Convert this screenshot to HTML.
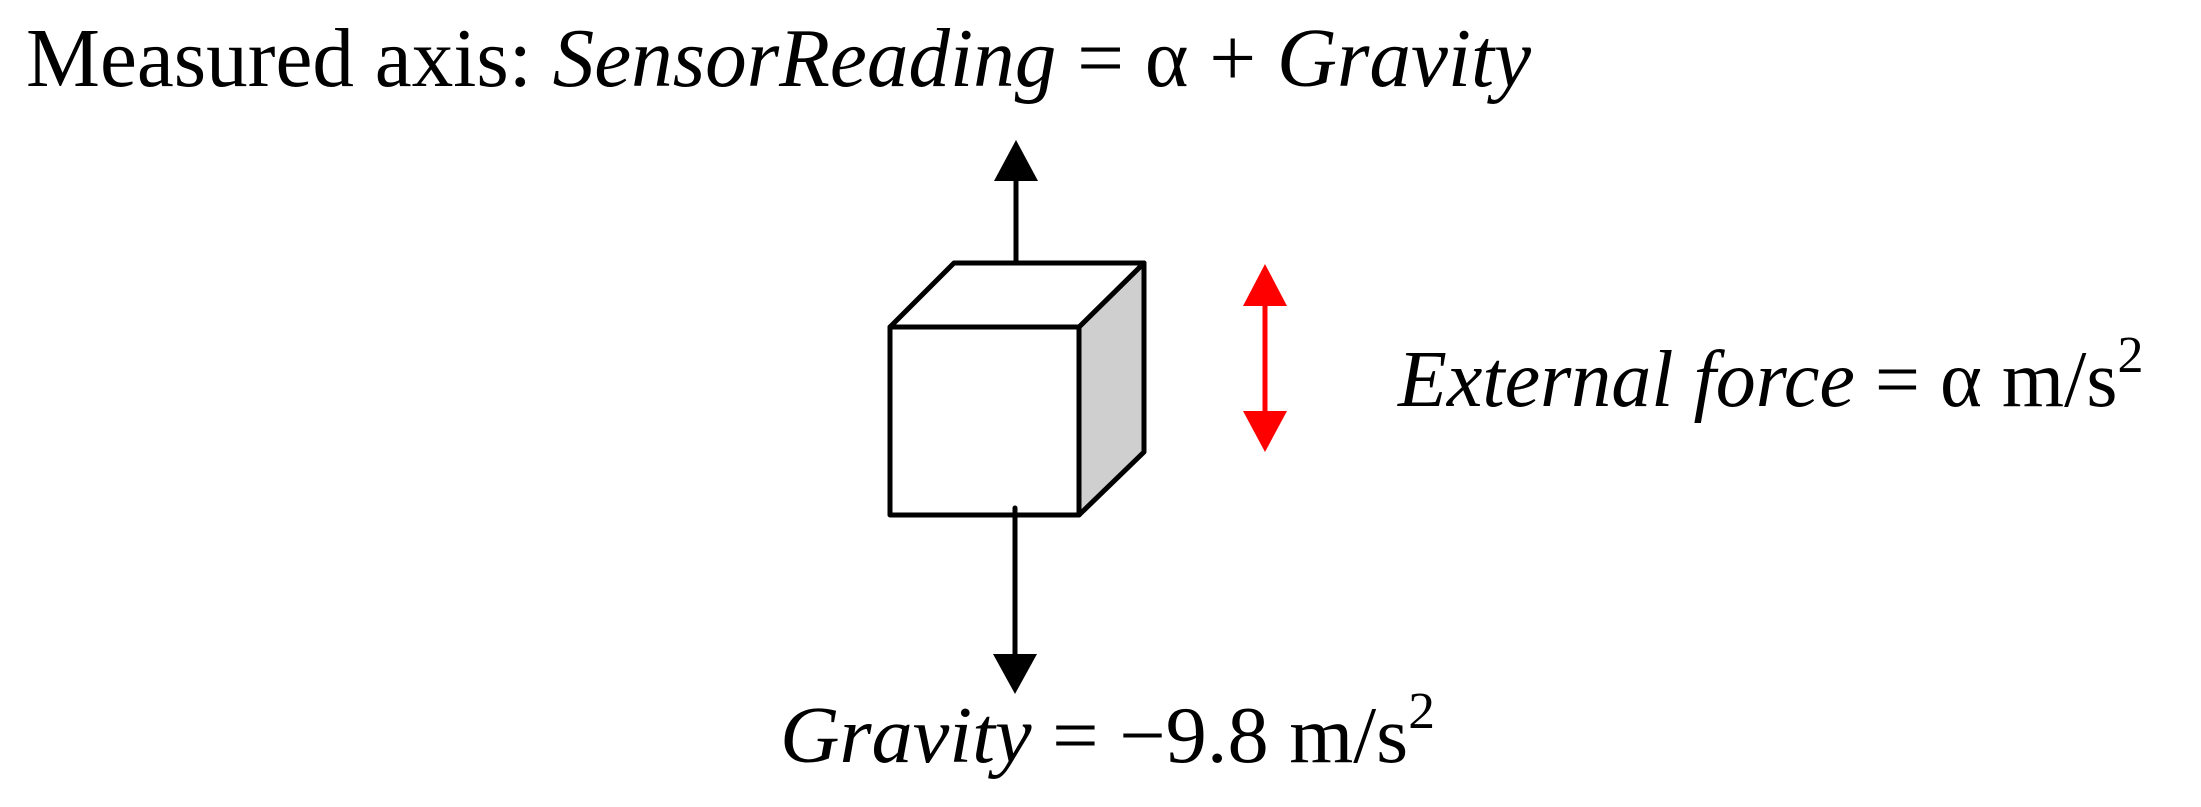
<!DOCTYPE html>
<html><head><meta charset="utf-8"><style>html,body{margin:0;padding:0;background:#fff;}svg{display:block}</style></head>
<body>
<svg width="2201" height="807" viewBox="0 0 2201 807" xmlns="http://www.w3.org/2000/svg" font-family="Liberation Serif, serif">
<text x="26" y="86" font-size="84" textLength="1505" lengthAdjust="spacingAndGlyphs">Measured axis: <tspan font-style="italic">SensorReading</tspan> = α + <tspan font-style="italic">Gravity</tspan></text>
<!-- cube -->
<g stroke="#000" stroke-width="5" stroke-linejoin="round" stroke-linecap="round">
<polygon points="1079,327 1144,263 1144,452 1079,515" fill="#cfcfcf"/>
<polygon points="890,327 954,263 1144,263 1079,327" fill="#fff"/>
<rect x="890" y="327" width="189" height="188" fill="#fff"/>
<line x1="1016" y1="263" x2="1016" y2="176"/>
<line x1="1015" y1="508" x2="1015" y2="658"/>
</g>
<polygon points="1016,140 994,181 1038,181" fill="#000"/>
<polygon points="1015,694 993,654 1037,654" fill="#000"/>
<line x1="1265" y1="300" x2="1265" y2="416" stroke="#f00" stroke-width="5"/>
<polygon points="1265,264 1243,306 1287,306" fill="#f00"/>
<polygon points="1265,452 1243,411 1287,411" fill="#f00"/>
<text x="1398" y="406" font-size="80"><tspan font-style="italic">External force</tspan> = α m/s<tspan font-size="52" dy="-34">2</tspan></text>
<text x="780" y="762" font-size="80" textLength="655" lengthAdjust="spacingAndGlyphs"><tspan font-style="italic">Gravity</tspan> = −9.8 m/s<tspan font-size="52" dy="-34">2</tspan></text>
</svg>
</body></html>
